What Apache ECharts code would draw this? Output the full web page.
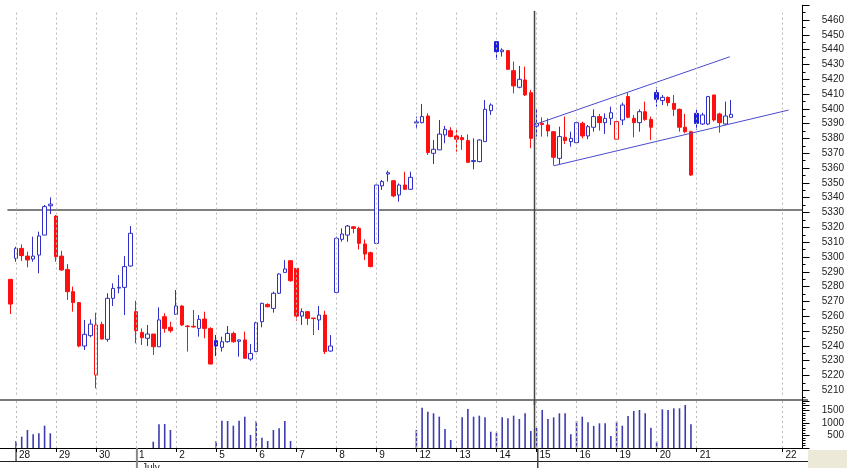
<!DOCTYPE html>
<html>
<head>
<meta charset="utf-8">
<script src="https://cdn.jsdelivr.net/npm/echarts/dist/echarts.min.js"></script>
<style>
html,body{margin:0;padding:0;background:#fff;}
#c{width:847px;height:468px;}
</style>
</head>
<body>
<div id="c"></div>
<script>
// ---- data ----
const slotCount = 139;
const categories = Array.from({length: slotCount}, (_, i) => String(i));

const opens = [5284.9,5299.1,5305.8,5300.6,5298.6,5301.3,5314.8,5334.6,5327.6,5300.6,
5291.6,5276.6,5269.2,5239.9,5246.9,5220.3,5254.5,5244.4,5272.1,5279.0,
5279.5,5293.9,5263.1,5249.1,5245.1,5248.0,5239.4,5259.7,5252.5,5261.3,
5266.9,5253.4,5253.2,5251.8,5258.1,5251.8,5243.5,5239.0,5242.8,5248.4,
5243.1,5244.0,5231.1,5236.1,5256.3,5268.0,5265.3,5275.5,5289.6,5297.5,
5292.3,5260.1,5263.1,5258.8,5257.5,5260.8,5236.5,5276.1,5311.9,5314.8,
5320.4,5319.3,5308.8,5302.9,5309.2,5348.0,5356.0,5351.5,5341.9,5348.6,
5345.7,5390.5,5390.7,5395.2,5370.0,5372.3,5382.4,5385.3,5381.7,5380.6,
5378.6,5364.4,5364.4,5377.9,5398.8,5445.4,5438.6,5439.3,5425.8,5414.6,
5419.5,5410.9,5388.4,5390.3,5389.1,5384.6,5366.6,5380.8,5377.9,5377.2,
5390.3,5381.7,5387.6,5394.8,5390.7,5393.6,5379.5,5392.5,5408.3,5393.6,
5390.7,5398.1,5392.9,5411.0,5405.6,5407.8,5403.7,5399.7,5387.6,5384.6,
5397.0,5389.8,5389.8,5409.4,5396.6,5389.8,5394.3];
const closes = [5268.2,5305.8,5300.9,5298.0,5300.6,5314.2,5334.0,5335.7,5300.2,5291.2,
5276.6,5269.2,5239.9,5247.8,5254.7,5254.1,5244.6,5272.1,5278.8,5279.5,
5293.5,5316.0,5250.2,5245.5,5248.0,5239.4,5257.5,5251.8,5250.2,5266.9,
5254.1,5253.0,5252.7,5257.9,5251.8,5227.7,5239.9,5242.8,5248.4,5242.8,
5244.0,5231.6,5234.9,5255.6,5268.7,5266.4,5275.5,5288.5,5291.9,5284.0,
5260.1,5263.1,5258.6,5258.4,5260.8,5236.1,5239.9,5312.6,5315.5,5320.9,
5319.3,5309.2,5302.0,5293.5,5348.6,5350.9,5356.9,5341.2,5348.6,5345.7,
5353.8,5391.2,5394.8,5370.5,5372.7,5383.0,5386.2,5381.3,5379.5,5379.2,
5363.9,5365.1,5379.0,5399.7,5402.6,5438.6,5439.7,5426.7,5415.5,5420.0,
5409.4,5380.1,5390.2,5389.4,5385.1,5367.3,5381.3,5378.6,5380.1,5390.7,
5381.7,5388.0,5394.8,5390.7,5393.6,5397.4,5391.4,5402.6,5394.3,5390.7,
5398.1,5392.9,5387.6,5406.5,5407.8,5404.2,5399.7,5387.6,5384.6,5355.4,
5390.2,5395.9,5408.3,5392.5,5390.7,5395.2,5396.3];
const lows = [5261.5,5296.8,5297.3,5293.0,5296.8,5289.0,5314.8,5329.0,5296.8,5290.7,
5271.0,5263.1,5239.0,5237.2,5245.8,5211.3,5244.4,5242.8,5266.9,5275.5,
5260.8,5293.5,5241.7,5240.6,5239.9,5233.8,5239.4,5248.9,5248.9,5261.3,
5253.4,5236.1,5252.5,5246.2,5245.1,5227.7,5233.1,5236.1,5242.1,5242.1,
5232.7,5231.6,5230.0,5236.1,5252.5,5266.0,5262.4,5275.0,5289.4,5283.3,
5257.0,5254.1,5254.1,5247.3,5250.7,5234.5,5236.1,5275.9,5310.3,5310.3,
5316.0,5305.1,5298.0,5293.0,5309.0,5345.3,5350.9,5340.3,5337.3,5345.3,
5345.3,5386.9,5390.2,5368.9,5362.8,5372.3,5376.8,5380.8,5371.1,5372.3,
5363.7,5359.2,5364.0,5377.9,5395.9,5433.0,5435.3,5426.2,5410.5,5413.9,
5408.7,5373.4,5381.3,5381.3,5381.3,5361.7,5362.8,5376.3,5374.5,5376.8,
5380.1,5379.5,5384.6,5385.3,5383.1,5389.1,5379.0,5389.1,5393.6,5380.8,
5384.6,5392.0,5379.0,5401.5,5402.6,5401.9,5395.2,5384.6,5383.5,5354.7,
5385.8,5389.1,5389.1,5391.4,5383.9,5389.1,5394.3];
const highs = [5284.9,5306.9,5308.5,5303.6,5313.7,5317.1,5335.1,5340.2,5328.3,5304.2,
5295.2,5280.0,5269.6,5257.5,5257.9,5262.4,5256.3,5275.5,5282.2,5287.8,
5300.6,5320.9,5270.5,5251.8,5254.1,5248.0,5266.0,5262.0,5256.3,5277.7,
5267.6,5254.1,5264.2,5260.8,5263.1,5252.5,5247.3,5246.2,5253.4,5249.6,
5244.4,5249.6,5241.2,5256.3,5269.1,5268.7,5276.6,5289.0,5297.9,5297.9,
5292.3,5265.3,5263.6,5258.8,5266.9,5263.7,5247.3,5313.7,5319.3,5321.6,
5320.9,5320.4,5311.9,5303.6,5349.0,5352.0,5358.3,5352.0,5349.7,5357.6,
5357.6,5394.8,5403.3,5397.0,5379.0,5392.5,5388.5,5387.6,5385.8,5382.4,
5382.8,5380.1,5379.5,5406.0,5403.7,5445.8,5440.9,5439.7,5431.9,5429.0,
5428.5,5412.8,5399.7,5394.3,5393.6,5385.1,5388.0,5394.8,5384.6,5391.4,
5391.4,5389.1,5399.7,5396.6,5397.0,5401.5,5392.0,5404.2,5411.0,5395.9,
5399.7,5404.9,5394.8,5414.6,5409.4,5408.3,5409.4,5400.2,5396.6,5385.3,
5399.3,5397.4,5408.8,5409.4,5397.4,5404.9,5406.0];
const volumes = [null,280,453,720,547,587,893,587,null,null,
null,null,null,null,null,null,null,null,null,null,
null,null,null,null,null,253,947,960,720,null,
null,null,null,null,null,null,280,1093,1080,893,
1093,1253,520,1080,413,280,720,787,1080,280,
null,null,null,null,null,null,null,null,null,null,
null,null,null,null,null,null,null,null,null,null,
null,720,1613,1453,1387,1253,760,320,null,1227,
1560,1253,1293,1227,653,613,1227,1187,1293,1160,
1387,680,813,1520,1160,1227,1387,1387,547,1080,
1253,1027,880,987,987,480,1053,893,1280,1480,
1520,1387,813,253,1547,1520,1587,1587,1720,947,
null,null,null,null,null,null,null];

const dayLabels = ['28','29','30','1','2','5','6','7','8','9','12','13','14','15','16','19','20','21','22'];
const dayStarts = [1,8,15,22,29,36,43,50,57,64,71,78,85,92,99,106,113,120,135];
const monthLabel = 'July';
const monthStart = 22;

const upperTrend = [[91.47, 5389.1], [125.8, 5435.2]];
const lowerTrend = [[95.05, 5361.6], [136.06, 5399.2]];
const crossX = 91.65;
const crossY = 5331.7;

// ---- styles ----
const BLUE = '#3030c8', BLUE_FILL = '#1c1ce0', RED = '#ff1010';
const FONT = 'Liberation Sans, Arial, sans-serif';

const candleData = opens.map((o, i) => {
  const c = closes[i];
  const prev = i > 0 ? closes[i - 1] : o;
  const up = i > 0 ? c >= prev : c >= o;
  const col = up ? (c >= o ? BLUE : BLUE_FILL) : RED;
  const fill = c >= o ? '#ffffff' : col;
  return {
    value: [o, c, lows[i], highs[i]],
    itemStyle: {color: fill, color0: fill, borderColor: col, borderColor0: col, borderWidth: 1}
  };
});

const dayLineStyle = {color: '#b8b8b8', type: [2, 3], width: 1};
const mainDayLines = dayStarts.map(i => [
  {xAxis: i, yAxis: 5465, lineStyle: dayLineStyle},
  {xAxis: i, yAxis: 5205}
]);
const volDayLines = dayStarts.map(i => ({xAxis: i, lineStyle: dayLineStyle}));

const dayStartSet = new Set(dayStarts);
const gridPos = {left: 7.4, right: 39.6};
const hiddenValueX = (gi) => ({type: 'value', gridIndex: gi, min: -0.5, max: slotCount - 0.5, show: false,
  axisLine: {onZero: false}});
const plainNum = (v) => String(v);

const chart = echarts.init(document.getElementById('c'), null, {renderer: 'canvas'});
chart.setOption({
  animation: false,
  backgroundColor: '#ffffff',
  textStyle: {fontFamily: FONT},
  grid: [
    Object.assign({top: 5.2, height: 399.9}, gridPos),
    Object.assign({top: 401, height: 47}, gridPos),
    Object.assign({top: 448, height: 20}, gridPos)
  ],
  xAxis: [
    {type: 'category', gridIndex: 0, data: categories, boundaryGap: true, show: false, axisLine: {onZero: false}},
    hiddenValueX(0),
    {type: 'category', gridIndex: 1, data: categories, boundaryGap: true,
     axisLine: {onZero: false, lineStyle: {color: '#000', width: 1}},
     axisTick: {show: true, alignWithLabel: true, length: 4, interval: (idx) => dayStartSet.has(idx), lineStyle: {color: '#000'}},
     axisLabel: {
       interval: (idx) => dayStartSet.has(idx),
       formatter: (v) => { const k = dayStarts.indexOf(+v); return k >= 0 ? dayLabels[k] : ''; },
       align: 'left', padding: [0, 0, 0, 3], margin: 2, fontSize: 10, color: '#111', fontFamily: FONT,
       hideOverlap: false
     },
     splitLine: {show: false}},
    hiddenValueX(1),
    hiddenValueX(2)
  ],
  yAxis: [
    {type: 'value', gridIndex: 0, position: 'right', min: 5200, max: 5470, interval: 10,
     axisLine: {show: true, onZero: false, lineStyle: {color: '#000'}},
     axisTick: {show: true, length: 7, lineStyle: {color: '#000'}},
     minorTick: {show: true, splitNumber: 2, length: 3, lineStyle: {color: '#000'}},
     axisLabel: {showMinLabel: false, showMaxLabel: false, fontSize: 10, color: '#222', align: 'right', margin: 41.5,
       fontFamily: FONT, formatter: plainNum},
     splitLine: {show: false}},
    {type: 'value', gridIndex: 1, position: 'right', min: 0, max: 1880, interval: 500,
     axisLine: {show: true, onZero: false, lineStyle: {color: '#000'}},
     axisTick: {show: true, length: 7, lineStyle: {color: '#000'}},
     minorTick: {show: true, splitNumber: 5, length: 3, lineStyle: {color: '#000'}},
     axisLabel: {showMinLabel: false, showMaxLabel: false, fontSize: 10, color: '#222', align: 'right', margin: 41.5,
       fontFamily: FONT, formatter: plainNum},
     splitLine: {show: false}},
    {type: 'value', gridIndex: 2, min: 0, max: 20, show: false, axisLine: {onZero: false}}
  ],
  series: [
    {type: 'candlestick', xAxisIndex: 0, yAxisIndex: 0, data: candleData, barWidth: 4, clip: false,
     markLine: {silent: true, symbol: ['none', 'none'], label: {show: false}, animation: false, data: mainDayLines}},
    {type: 'line', xAxisIndex: 1, yAxisIndex: 0, data: upperTrend, showSymbol: false, symbol: 'none',
     lineStyle: {color: '#4a4ad0', width: 1}},
    {type: 'line', xAxisIndex: 1, yAxisIndex: 0, data: lowerTrend, showSymbol: false, symbol: 'none',
     lineStyle: {color: '#4a4ad0', width: 1}},
    {type: 'line', xAxisIndex: 1, yAxisIndex: 0, data: [[-0.5, crossY], [slotCount - 0.5, crossY]], symbol: 'none',
     lineStyle: {color: '#555', width: 1.5}, z: 1},
    {type: 'line', xAxisIndex: 1, yAxisIndex: 0, data: [[crossX, 5466], [crossX, 5200]], symbol: 'none',
     lineStyle: {color: '#444', width: 1.5}, z: 1},
    {type: 'bar', xAxisIndex: 2, yAxisIndex: 1, data: volumes, barWidth: 1.6, itemStyle: {color: '#3c3cb0'},
     markLine: {silent: true, symbol: ['none', 'none'], label: {show: false}, animation: false, data: volDayLines}},
    {type: 'line', xAxisIndex: 3, yAxisIndex: 1, data: [[crossX, 0], [crossX, 1880]], symbol: 'none',
     lineStyle: {color: '#444', width: 1.5}},
    {type: 'line', xAxisIndex: 4, yAxisIndex: 2, data: [[crossX, 0], [crossX, 20]], symbol: 'none',
     lineStyle: {color: '#444', width: 1.5}},
    {type: 'line', xAxisIndex: 4, yAxisIndex: 2, data: [[monthStart, 0], [monthStart, 20]], symbol: 'none',
     lineStyle: {color: '#888', width: 2}},
    {type: 'line', xAxisIndex: 4, yAxisIndex: 2, data: [[dayStarts[0], 7], [dayStarts[0], 20]], symbol: 'none',
     lineStyle: {color: '#000', width: 1}}
  ],
  graphic: [
    {type: 'line', shape: {x1: 0, y1: 400, x2: 808, y2: 400}, style: {stroke: '#7a7a7a', lineWidth: 2}},
    {type: 'line', shape: {x1: 0, y1: 448.5, x2: 808, y2: 448.5}, style: {stroke: '#000', lineWidth: 1}},
    {type: 'line', shape: {x1: 0, y1: 461.5, x2: 808, y2: 461.5}, style: {stroke: '#222', lineWidth: 1}},
    {type: 'rect', shape: {x: 808, y: 450, width: 39, height: 18}, style: {fill: '#ece9d8'}},
    {type: 'text', x: 142, y: 463, style: {text: monthLabel, fontSize: 10, fill: '#222', fontFamily: FONT}}
  ]
});
</script>
</body>
</html>
